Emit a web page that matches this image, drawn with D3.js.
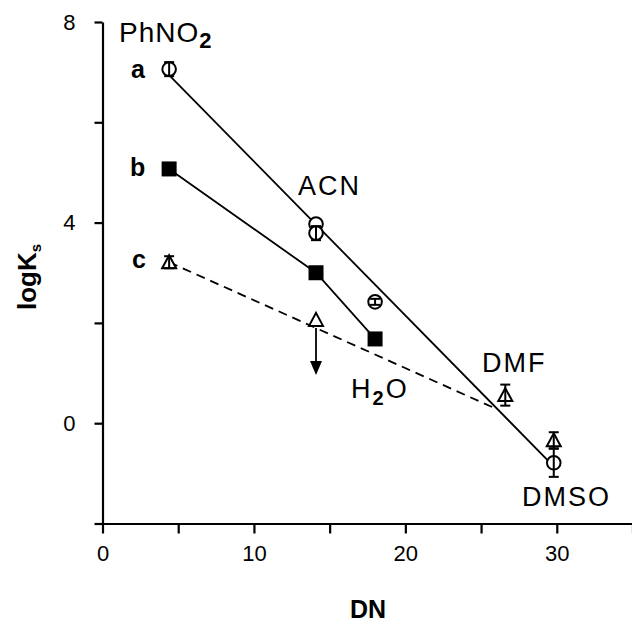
<!DOCTYPE html>
<html>
<head>
<script src="https://d3js.org/d3.v7.min.js"></script>
<style>
  body { margin: 0; background: #fff; }
  text { font-family: "Liberation Sans", Arial, sans-serif; fill: #000; }
</style>
</head>
<body>
<div id="graph"></div>
<script>
// series a: circles
var dnA = [4.4, 14.1, 14.1, 18.0, 29.8];
var logKA = [7.06, 3.97, 3.79, 2.42, -0.79];
var errA = [0.14, 0, 0.14, 0.06, 0.28];
// series b: filled squares
var dnB = [4.4, 14.1, 18.0];
var logKB = [5.07, 3.0, 1.68];
// series c: triangles
var dnC = [4.4, 14.1, 26.6, 29.8];
var logKC = [3.21, 2.06, 0.56, -0.34];
var errC = [0.12, 0, 0.21, 0.16];
// upper-limit arrow on the c point at ACN
var arrowFrom = [14.1, 1.9];
var arrowTo = [14.1, 0.96];
// fitted lines
var fitA = [[4.4, 6.94], [29.6, -0.8]];
var fitC = [[4.4, 3.21], [25.9, 0.3]];

var xTicks = [0, 5, 10, 15, 20, 25, 30, 35];
var xLabels = [0, 10, 20, 30];
var yTicks = [-2, 0, 2, 4, 6, 8];
var yLabels = [0, 4, 8];

var solvents = [
  {t: "ACN", x: 298, y: 195},
  {t: "DMF", x: 482, y: 372},
  {t: "DMSO", x: 522, y: 506}
];

var width = 632, height = 624;
var svg = d3.select("#graph").append("svg")
  .attr("width", width).attr("height", height);

var x = d3.scaleLinear().domain([0, 35]).range([102.5, 632.5]);
var y = d3.scaleLinear().domain([-2, 8]).range([523.5, 22]);

// axes
var xAxis = svg.append("g")
  .attr("transform", "translate(0," + y(-2) + ")")
  .call(d3.axisBottom(x).tickValues(xTicks).tickSize(10).tickSizeOuter(0).tickPadding(12)
    .tickFormat(function(d) { return xLabels.indexOf(d) >= 0 ? d : ""; }));
var yAxis = svg.append("g")
  .attr("transform", "translate(" + x(0) + ",0)")
  .call(d3.axisLeft(y).tickValues(yTicks).tickSize(8).tickSizeOuter(0).tickPadding(19)
    .tickFormat(function(d) { return yLabels.indexOf(d) >= 0 ? d : ""; }));
[xAxis, yAxis].forEach(function(g) {
  g.selectAll("path, line").attr("stroke", "#000").attr("stroke-width", 2.2);
  g.selectAll("text").style("font-size", "22px").style("font-family", "Liberation Sans, Arial, sans-serif");
});

// axis titles
svg.append("text")
  .attr("x", 368).attr("y", 618)
  .attr("text-anchor", "middle")
  .style("font-size", "25px").style("font-weight", "bold")
  .text("DN");
var yl = svg.append("text")
  .attr("transform", "translate(36,277) rotate(-90)")
  .attr("text-anchor", "middle")
  .style("font-size", "26px").style("font-weight", "bold");
yl.append("tspan").text("logK");
yl.append("tspan").attr("dy", 5).style("font-size", "15px").text("s");

// lines
var line = d3.line().x(function(d) { return x(d[0]); }).y(function(d) { return y(d[1]); });
svg.append("path").datum(fitA).attr("d", line)
  .attr("fill", "none").attr("stroke", "#000").attr("stroke-width", 1.8);
svg.append("path").datum(d3.zip(dnB, logKB)).attr("d", line)
  .attr("fill", "none").attr("stroke", "#000").attr("stroke-width", 1.8);
svg.append("path").datum(fitC).attr("d", line)
  .attr("fill", "none").attr("stroke", "#000").attr("stroke-width", 1.8)
  .attr("stroke-dasharray", "9,6");

// arrow
svg.append("line")
  .attr("x1", x(arrowFrom[0])).attr("y1", y(arrowFrom[1]))
  .attr("x2", x(arrowTo[0])).attr("y2", y(arrowTo[1]) - 12)
  .attr("stroke", "#000").attr("stroke-width", 1.8);
svg.append("path")
  .attr("d", "M" + (x(arrowTo[0]) - 6) + "," + (y(arrowTo[1]) - 14) +
    "L" + (x(arrowTo[0]) + 6) + "," + (y(arrowTo[1]) - 14) +
    "L" + x(arrowTo[0]) + "," + y(arrowTo[1]) + "Z")
  .attr("fill", "#000");

// squares
svg.append("g").selectAll("rect")
  .data(d3.zip(dnB, logKB)).enter().append("rect")
  .attr("x", function(d) { return x(d[0]) - 7.5; })
  .attr("y", function(d) { return y(d[1]) - 7.5; })
  .attr("width", 15).attr("height", 15)
  .attr("fill", "#000");

// circles
svg.append("g").selectAll("circle")
  .data(d3.zip(dnA, logKA)).enter().append("circle")
  .attr("cx", function(d) { return x(d[0]); })
  .attr("cy", function(d) { return y(d[1]); })
  .attr("r", 6.8)
  .attr("fill", "#fff").attr("stroke", "#000").attr("stroke-width", 2);

// triangles
svg.append("g").selectAll("path")
  .data(d3.zip(dnC, logKC)).enter().append("path")
  .attr("d", function(d) {
    var cx = x(d[0]), cy = y(d[1]);
    return "M" + cx + "," + (cy - 7) + "L" + (cx + 7) + "," + (cy + 6) + "L" + (cx - 7) + "," + (cy + 6) + "Z";
  })
  .attr("fill", "#fff").attr("stroke", "#000").attr("stroke-width", 2);

// error bars
function errBars(dn, v, e) {
  var rows = d3.zip(dn, v, e).filter(function(d) { return d[2] > 0; });
  var g = svg.append("g").attr("stroke", "#000").attr("stroke-width", 2);
  rows.forEach(function(d) {
    var cx = x(d[0]), t = y(d[1] + d[2]), b = y(d[1] - d[2]);
    g.append("line").attr("x1", cx).attr("x2", cx).attr("y1", t).attr("y2", b);
    g.append("line").attr("x1", cx - 5).attr("x2", cx + 5).attr("y1", t).attr("y2", t);
    g.append("line").attr("x1", cx - 5).attr("x2", cx + 5).attr("y1", b).attr("y2", b);
  });
}
errBars(dnA, logKA, errA);
errBars(dnC, logKC, errC);

// labels
var ph = svg.append("text").attr("x", 119).attr("y", 42)
  .style("font-size", "28px").style("letter-spacing", "1px");
ph.append("tspan").text("PhNO");
ph.append("tspan").attr("dy", 6).style("font-size", "22px").style("font-weight", "bold").text("2");

[["a", 131, 78], ["b", 130, 176], ["c", 132, 268]].forEach(function(l) {
  svg.append("text").attr("x", l[1]).attr("y", l[2])
    .style("font-size", "25px").style("font-weight", "bold").text(l[0]);
});

solvents.forEach(function(s) {
  svg.append("text").attr("x", s.x).attr("y", s.y)
    .style("font-size", "27px").style("letter-spacing", "2px").text(s.t);
});
var h2o = svg.append("text").attr("x", 351).attr("y", 398)
  .style("font-size", "27px").style("letter-spacing", "2px");
h2o.append("tspan").text("H");
h2o.append("tspan").attr("dy", 7).style("font-size", "20px").style("font-weight", "bold").text("2");
h2o.append("tspan").attr("dy", -7).text("O");
</script>
</body>
</html>
